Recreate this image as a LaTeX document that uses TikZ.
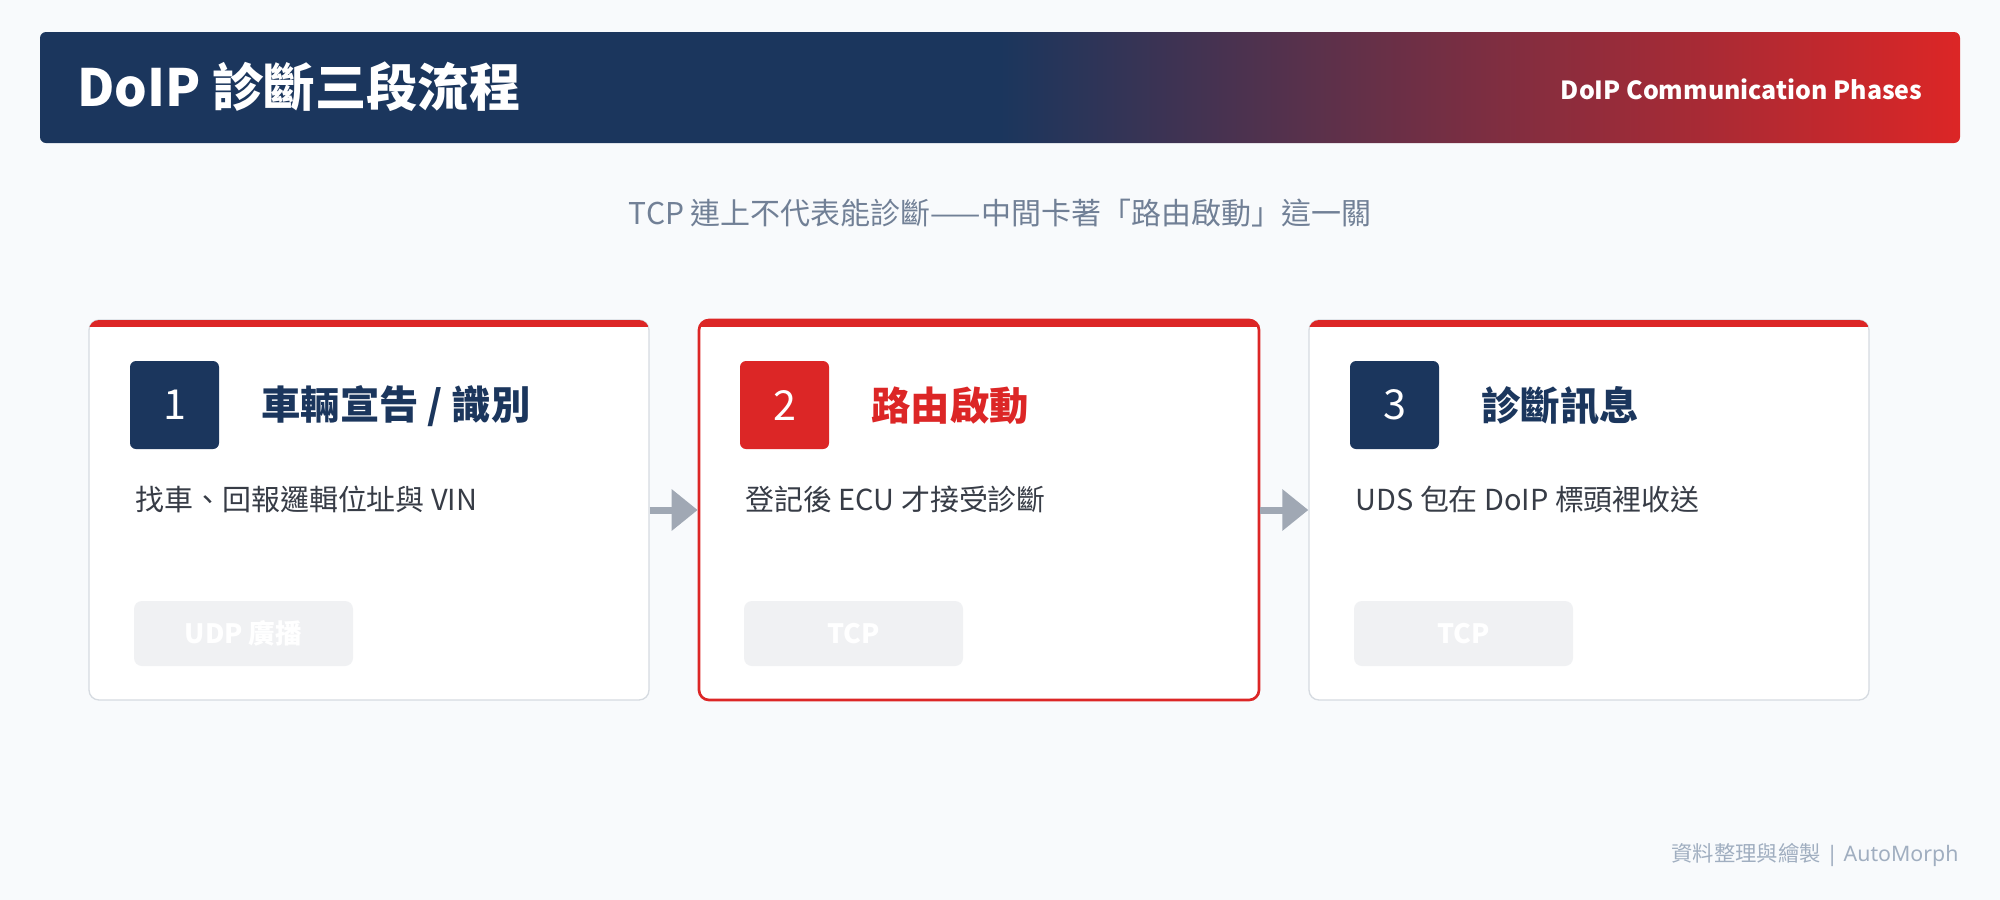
\documentclass[tikz,border=0pt]{standalone}
\usepackage{fontspec}
\setmainfont{Noto Sans CJK TC}
\newfontfamily\latinfont{Noto Sans}
\usetikzlibrary{arrows.meta}

\definecolor{hdnavy}{RGB}{27,54,93}
\definecolor{hdred}{RGB}{220,38,38}
\pgfdeclarehorizontalshading{hdfade}{100bp}{color(0bp)=(hdnavy); color(50bp)=(hdnavy); color(75bp)=(hdred); color(100bp)=(hdred)}

\tikzset{every picture/.style={line width=0.75pt}}
\tikzset{
  cardbox/.style={draw={rgb, 255:red, 214; green, 219; blue, 225}, line width=1pt, fill=white, rounded corners=7.5pt, minimum width=420pt, minimum height=285pt, inner sep=0pt},
  badgebox/.style={fill=hdnavy, rounded corners=4.5pt, minimum width=66.75pt, minimum height=66pt, inner sep=0pt, text=white, font=\fontsize{31}{36}\selectfont},
  phasetitle/.style={anchor=west, inner sep=0pt, text=hdnavy, font=\bfseries\fontsize{29.5}{35}\selectfont},
  phasedesc/.style={anchor=west, inner sep=0pt, text={rgb, 255:red, 55; green, 60; blue, 70}, font=\fontsize{21.7}{27}\selectfont},
  tagbox/.style={fill={rgb, 255:red, 240; green, 241; blue, 243}, rounded corners=6pt, minimum width=164.25pt, minimum height=48.75pt, inner sep=0pt, text=white, font=\bfseries\fontsize{20}{24}\selectfont},
  flowarrow/.style={draw={rgb, 255:red, 160; green, 168; blue, 180}, line width=5.25pt, -{Triangle[length=19.5pt,width=30pt]}}
}

\begin{document}
\begin{tikzpicture}[x=0.75pt,y=0.75pt,yscale=-1,xscale=1]
%Page background
\fill [color={rgb, 255:red, 248; green, 250; blue, 252 }] (0,0) rectangle (2000,900) ;

%Shape: Header bar
\shade [shading=hdfade, rounded corners=4.5pt] (40,32) rectangle (1960,143) ;
% Text Node
\node [anchor=west, inner sep=0pt, text=white, font=\bfseries\fontsize{38.5}{46}\selectfont] (title) at (77,87) {DoIP 診斷三段流程};
% Text Node
\node [anchor=east, inner sep=0pt, text=white, font=\bfseries\fontsize{18.7}{23}\selectfont] (phases) at (1923,89) {DoIP Communication Phases};
% Text Node
\node [inner sep=0pt, text={rgb, 255:red, 113; green, 128; blue, 150}, font=\fontsize{22.5}{27}\selectfont] (lead) at (1000,213) {TCP 連上不代表能診斷——中間卡著「路由啟動」這一關};

%Shape: Card 1
\node [cardbox] (phase1) at (369,510) {};
\begin{scope}
\clip [rounded corners=7.5pt] (89,320) rectangle (649,700) ;
\fill [color=hdred] (89,319) rectangle (649,327) ;
\end{scope}
\node [badgebox] (num1) at (174.5,405) {1};
\node [phasetitle] (head1) at (261,406) {車輛宣告 / 識別};
\node [phasedesc] (desc1) at (135,499) {找車、回報邏輯位址與 VIN};
\node [tagbox] (tag1) at (243.5,633.5) {UDP 廣播};

%Shape: Card 2
\node [cardbox, draw=hdred, line width=2pt] (phase2) at (979,510) {};
\begin{scope}
\clip [rounded corners=7.5pt] (699,319) rectangle (1259,700) ;
\fill [color=hdred] (699,318) rectangle (1259,327) ;
\end{scope}
\node [badgebox, fill=hdred] (num2) at (784.5,405) {2};
\node [phasetitle, text=hdred] (head2) at (871,406) {路由啟動};
\node [phasedesc] (desc2) at (745,499) {登記後 ECU 才接受診斷};
\node [tagbox] (tag2) at (853.5,633.5) {TCP};

%Shape: Card 3
\node [cardbox] (phase3) at (1589,510) {};
\begin{scope}
\clip [rounded corners=7.5pt] (1309,320) rectangle (1869,700) ;
\fill [color=hdred] (1309,319) rectangle (1869,327) ;
\end{scope}
\node [badgebox] (num3) at (1394.5,405) {3};
\node [phasetitle] (head3) at (1481,406) {診斷訊息};
\node [phasedesc] (desc3) at (1355,499) {UDS 包在 DoIP 標頭裡收送};
\node [tagbox] (tag3) at (1463.5,633.5) {TCP};

%Straight Lines: flow between phases
\draw [flowarrow] (phase1.east) -- (phase2.west) ;
\draw [flowarrow] (phase2.east) -- (phase3.west) ;

% Text Node
\node [anchor=east, inner sep=0pt, text={rgb, 255:red, 160; green, 174; blue, 192}, font=\fontsize{16}{20}\selectfont] (credit) at (1959,855) {資料整理與繪製{\latinfont{} | AutoMorph}};

\end{tikzpicture}
\end{document}
